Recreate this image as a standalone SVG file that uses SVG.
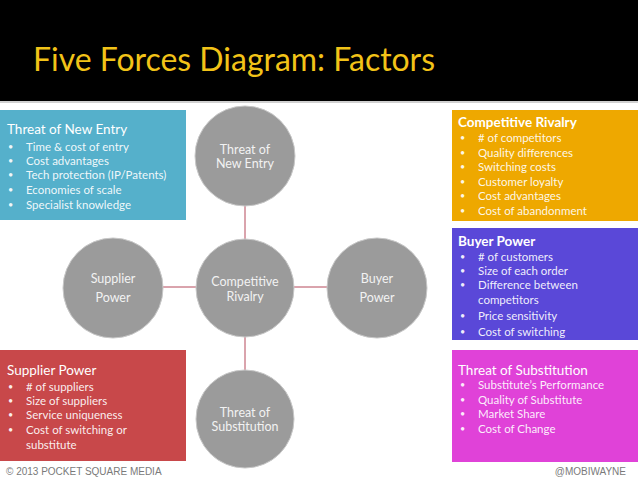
<svg xmlns="http://www.w3.org/2000/svg" width="638" height="479" viewBox="0 0 638 479">
<style>
.title{font-family:Lato,"Open Sans",sans-serif;font-size:33px;fill:#F2C318}
.circ{fill:#9B9B9B;stroke:#C8C8C8;stroke-width:1}
.ct{font-family:Lato,"Open Sans",sans-serif;font-size:12.5px;fill:#F2F2F2;text-anchor:middle}
.bh{font-family:Lato,"Open Sans",sans-serif;font-size:13.5px;fill:#FFFFFF}
.bhb{font-family:Lato,"Open Sans",sans-serif;font-size:13.5px;fill:#FFFFFF;font-weight:bold}
.bi{font-family:Lato,"Open Sans",sans-serif;font-size:11.5px;fill:#FFFFFF;fill-opacity:0.92}
.bl{font-size:9px}
.conn{stroke:#B5485A;stroke-width:1;fill:none}
.foot{font-family:"Liberation Sans",Arial,sans-serif;font-size:10px;fill:#7A7A7A}
</style>
<rect x="0" y="0" width="638" height="479" fill="#FFFFFF"/>
<rect x="0" y="0" width="638" height="101" fill="#000000"/>
<rect x="0" y="101" width="638" height="2" fill="#D0D0D0"/>
<text class="title" x="33" y="71" textLength="402" lengthAdjust="spacingAndGlyphs">Five Forces Diagram: Factors</text>

<g id="box-new-entry">
<rect x="0" y="110" width="186" height="110" fill="#55B0CB"/>
<text class="bh" x="7" y="134">Threat of New Entry</text>
<g class="bi">
<text class="bl" x="8" y="150">•</text><text x="26" y="151">Time &amp; cost of entry</text>
<text class="bl" x="8" y="164">•</text><text x="26" y="165">Cost advantages</text>
<text class="bl" x="8" y="178">•</text><text x="26" y="179">Tech protection (IP/Patents)</text>
<text class="bl" x="8" y="193">•</text><text x="26" y="194">Economies of scale</text>
<text class="bl" x="8" y="208">•</text><text x="26" y="209">Specialist knowledge</text>
</g>
</g>

<g id="box-rivalry">
<rect x="452" y="110" width="186" height="111" fill="#EEA800"/>
<text class="bhb" x="458" y="127">Competitive Rivalry</text>
<g class="bi">
<text class="bl" x="460" y="141">•</text><text x="478" y="142">#  of competitors</text>
<text class="bl" x="460" y="156">•</text><text x="478" y="157">Quality differences</text>
<text class="bl" x="460" y="170">•</text><text x="478" y="171">Switching costs</text>
<text class="bl" x="460" y="185">•</text><text x="478" y="186">Customer loyalty</text>
<text class="bl" x="460" y="199">•</text><text x="478" y="200">Cost advantages</text>
<text class="bl" x="460" y="214">•</text><text x="478" y="215">Cost of abandonment</text>
</g>
</g>

<g id="box-buyer">
<rect x="452" y="228" width="186" height="112" fill="#5A48D8"/>
<text class="bhb" x="458" y="246">Buyer Power</text>
<g class="bi">
<text class="bl" x="460" y="260">•</text><text x="478" y="261">#  of customers</text>
<text class="bl" x="460" y="274">•</text><text x="478" y="275">Size of each order</text>
<text class="bl" x="460" y="288">•</text><text x="478" y="289">Difference between</text>
<text x="478" y="304">competitors</text>
<text class="bl" x="460" y="319">•</text><text x="478" y="320">Price sensitivity</text>
<text class="bl" x="460" y="335">•</text><text x="478" y="336">Cost of switching</text>
</g>
</g>

<g id="box-supplier">
<rect x="0" y="350" width="186" height="111" fill="#C8484A"/>
<text class="bh" x="7" y="375">Supplier Power</text>
<g class="bi">
<text class="bl" x="8" y="390">•</text><text x="26" y="391">#  of suppliers</text>
<text class="bl" x="8" y="404">•</text><text x="26" y="405">Size of suppliers</text>
<text class="bl" x="8" y="418">•</text><text x="26" y="419">Service uniqueness</text>
<text class="bl" x="8" y="433">•</text><text x="26" y="434">Cost of switching or</text>
<text x="26" y="449">substitute</text>
</g>
</g>

<g id="box-substitution">
<rect x="452" y="350" width="186" height="112" fill="#E042D8"/>
<text class="bh" x="458" y="375">Threat of Substitution</text>
<g class="bi">
<text class="bl" x="460" y="388">•</text><text x="478" y="389">Substitute’s Performance</text>
<text class="bl" x="460" y="403">•</text><text x="478" y="404">Quality of Substitute</text>
<text class="bl" x="460" y="417">•</text><text x="478" y="418">Market Share</text>
<text class="bl" x="460" y="432">•</text><text x="478" y="433">Cost of Change</text>
</g>
</g>

<g id="connectors">
<line class="conn" x1="245" y1="206" x2="245" y2="240"/>
<line class="conn" x1="245" y1="337" x2="245" y2="370"/>
<line class="conn" x1="163" y1="287" x2="196" y2="287"/>
<line class="conn" x1="294" y1="287" x2="327" y2="287"/>
</g>

<g id="node-new-entry">
<circle class="circ" cx="245" cy="156" r="50"/>
<text class="ct" x="245" y="154">Threat of</text>
<text class="ct" x="245" y="168">New Entry</text>
</g>
<g id="node-rivalry">
<circle class="circ" cx="245" cy="288" r="49"/>
<text class="ct" x="245" y="286">Competitive</text>
<text class="ct" x="245" y="301">Rivalry</text>
</g>
<g id="node-supplier">
<circle class="circ" cx="113" cy="288" r="50"/>
<text class="ct" x="113" y="283">Supplier</text>
<text class="ct" x="113" y="302">Power</text>
</g>
<g id="node-buyer">
<circle class="circ" cx="377" cy="288" r="50"/>
<text class="ct" x="377" y="283">Buyer</text>
<text class="ct" x="377" y="302">Power</text>
</g>
<g id="node-substitution">
<circle class="circ" cx="245" cy="419" r="49"/>
<text class="ct" x="245" y="417">Threat of</text>
<text class="ct" x="245" y="431">Substitution</text>
</g>

<text class="foot" x="6" y="475">© 2013 POCKET SQUARE MEDIA</text>
<text class="foot" x="626" y="475" text-anchor="end">@MOBIWAYNE</text>
</svg>
